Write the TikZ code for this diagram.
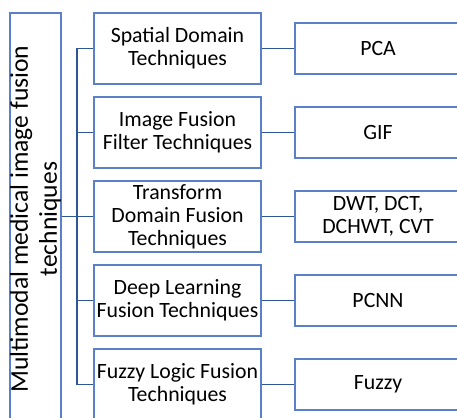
\documentclass[tikz,border=0pt]{standalone}
\usepackage{fontspec}
\setmainfont{Carlito}
\definecolor{boxc}{HTML}{5B80C8}
\definecolor{linec}{HTML}{2F5597}
\begin{document}
\begin{tikzpicture}[x=1pt,y=-1pt,
  box/.style={draw=boxc,line width=1.2pt,align=center,inner sep=0pt,font=\fontsize{21.8}{23}\selectfont,text=black},
  mid/.style={box,minimum width=167pt,minimum height=71pt},
  res/.style={box,minimum width=166pt,minimum height=51pt},
  conn/.style={draw=linec,line width=1.8pt}]
\useasboundingbox (0,0) rectangle (457,417);
\clip (0,0) rectangle (457,417);
\node[box,minimum width=51pt,minimum height=412pt] (root) at (35.5,219) {};
\node[rotate=90,align=center,font=\fontsize{25.6}{29}\selectfont] (roottxt) at (root.center) {Multimodal medical image fusion\\techniques};
\node[mid] (m1) at (177.5,48.5) {Spatial Domain\\Techniques};
\node[mid] (m2) at (177.5,132.5) {Image Fusion\\Filter Techniques};
\node[mid] (m3) at (177.5,216.5) {Transform\\Domain Fusion\\Techniques};
\node[mid] (m4) at (177.5,300.5) {Deep Learning\\Fusion Techniques};
\node[mid] (m5) at (177.5,384.5) {Fuzzy Logic Fusion\\Techniques};
\node[res] (r1) at (378,48.5) {PCA};
\node[res] (r2) at (378,132.5) {GIF};
\node[res] (r3) at (378,216.5) {DWT, DCT,\\DCHWT, CVT};
\node[res] (r4) at (378,300.5) {PCNN};
\node[res] (r5) at (378,384.5) {Fuzzy};
\coordinate (t1) at (77,48.5);
\coordinate (t5) at (77,384.5);
\coordinate (tm) at (77,216.5);
\draw[conn] (t1) -- (t5);
\draw[conn] (root.east |- tm) -- (tm);
\foreach \i in {1,...,5}{
  \draw[conn] (t1 |- m\i.west) -- (m\i.west);
  \draw[conn] (m\i.east) -- (r\i.west);
}
\end{tikzpicture}
\end{document}
